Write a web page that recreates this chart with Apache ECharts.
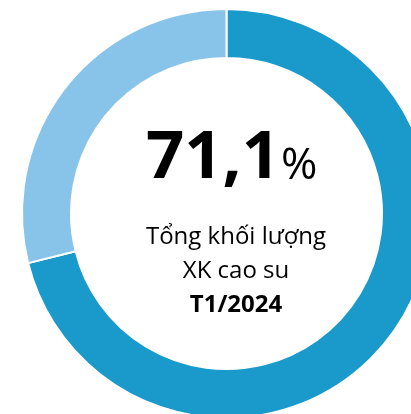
<!DOCTYPE html>
<html>
<head>
<meta charset="utf-8">
<script src="https://cdn.jsdelivr.net/npm/echarts@6/dist/echarts.min.js"></script>
<style>
  html, body { margin: 0; padding: 0; background: #fff; }
  #donut-chart { width: 411px; height: 414px; }
</style>
</head>
<body>
<div id="donut-chart"></div>
<script>
var categories = ['Cao su', 'Khác'];
var shares = [71.1, 28.9];
var colors = ['#1a9acb', '#88c4ea'];
var captionLines = ['Tổng khối lượng', 'XK cao su'];
var periodLabel = 'T1/2024';

initDonut();
function initDonut(){
    var dom = document.getElementById('donut-chart');
    var myChart = echarts.init(dom, null, { renderer: 'canvas' });

    var option = {
        animation: false,
        series: [
          {
            type: 'pie',
            center: [226.5, 213.5],
            radius: [155.5, 204.5],
            startAngle: 90,
            clockwise: true,
            silent: true,
            label: { show: false },
            labelLine: { show: false },
            itemStyle: { borderColor: '#fff', borderWidth: 2 },
            data: categories.map(function (name, i) {
              return { name: name, value: shares[i], itemStyle: { color: colors[i] } };
            })
          }
        ],
        graphic: [
          {
            type: 'text',
            left: 146, top: 125,
            style: {
              text: '{a|' + String(shares[0]).replace('.', ',') + '}{b|%}',
              rich: {
                a: { fontFamily: 'Open Sans', fontWeight: 'bold', fontSize: 67, fill: '#000' },
                b: { fontFamily: 'Open Sans', fontSize: 44, fill: '#000', padding: [16, 0, 0, 1] }
              }
            }
          },
          {
            type: 'text',
            x: 236, y: 220,
            style: {
              text: captionLines.join('\n') + '\n{c|' + periodLabel + '}',
              fontFamily: 'Open Sans', fontSize: 24, fill: '#000',
              align: 'center', lineHeight: 34,
              rich: { c: { fontFamily: 'Open Sans', fontWeight: 'bold', fontSize: 24, lineHeight: 34, fill: '#000' } }
            }
          }
        ]
    };

    myChart.setOption(option);
    window.addEventListener('resize', myChart.resize);
}
</script>
</body>
</html>
